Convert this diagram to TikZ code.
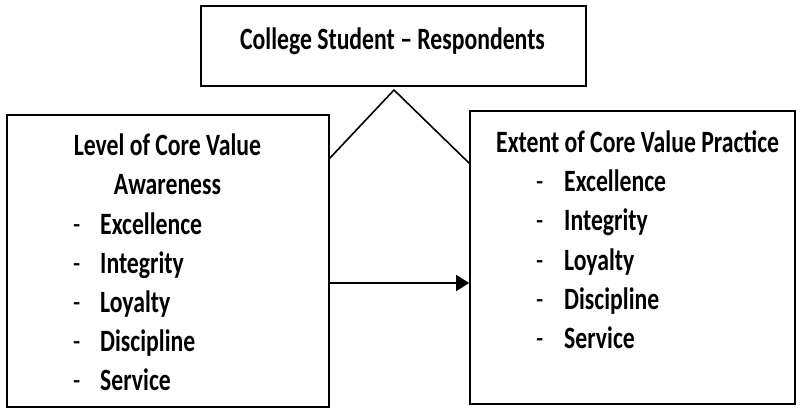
\documentclass[tikz,border=0pt]{standalone}
\usepackage{fontspec}
\setmainfont{Carlito}[FakeStretch=0.765]
\usetikzlibrary{arrows.meta,calc}
\begin{document}
\begin{tikzpicture}[x=1pt,y=-1pt,
  box/.style={draw=black,line width=1.6pt,inner sep=0pt},
  txt/.style={inner sep=0pt,font=\fontsize{31}{39}\selectfont\bfseries},
  itemtxt/.style={txt,anchor=base west},
  dashtxt/.style={inner sep=0pt,anchor=base west,font=\fontsize{31}{39}\selectfont},
  link/.style={line width=1.6pt,line cap=round,line join=round}]
\useasboundingbox (0,0) rectangle (804,409);

% boxes
\node[box,minimum width=385pt,minimum height=80pt] (top) at (393.5,46) {};
\node[box,minimum width=322pt,minimum height=292pt] (left) at (168,261) {};
\node[box,minimum width=325pt,minimum height=293pt] (right) at (632.5,257.5) {};

% top box text
\node[txt,anchor=base] (toptxt) at (392.5,49.3) {College Student – Respondents};

% left box text
\node[txt,anchor=base] (lt1) at (167.5,156) {Level of Core Value};
\node[txt,anchor=base] (lt2) at (167.5,195) {Awareness};
\foreach \w [count=\i] in {Excellence,Integrity,Loyalty,Discipline,Service}{
  \node[dashtxt] (ld\i) at (73,{195+39*\i}) {-};
  \node[itemtxt] (li\i) at (100,{195+39*\i}) {\w};
}

% right box text
\node[txt,anchor=base west] (rt) at (496,152.7) {Extent of Core Value Practice};
\foreach \w [count=\i] in {Excellence,Integrity,Loyalty,Discipline,Service}{
  \node[dashtxt] (rd\i) at (536,{152.7+39.1*\i}) {-};
  \node[itemtxt] (ri\i) at (564,{152.7+39.1*\i}) {\w};
}

% connectors
\coordinate (apex) at (394,90);
\coordinate (lj) at ($(left.north east)+(0,44)$);
\coordinate (rj) at ($(right.north west)+(0,53)$);
\draw[link] (lj) -- (apex) -- (rj);
\coordinate (as) at (left.east |- 0,283);
\coordinate (ae) at (right.west |- 0,283);
\draw[link,-{Triangle[length=13pt,width=16pt]}] (as) -- (ae);
\end{tikzpicture}
\end{document}
